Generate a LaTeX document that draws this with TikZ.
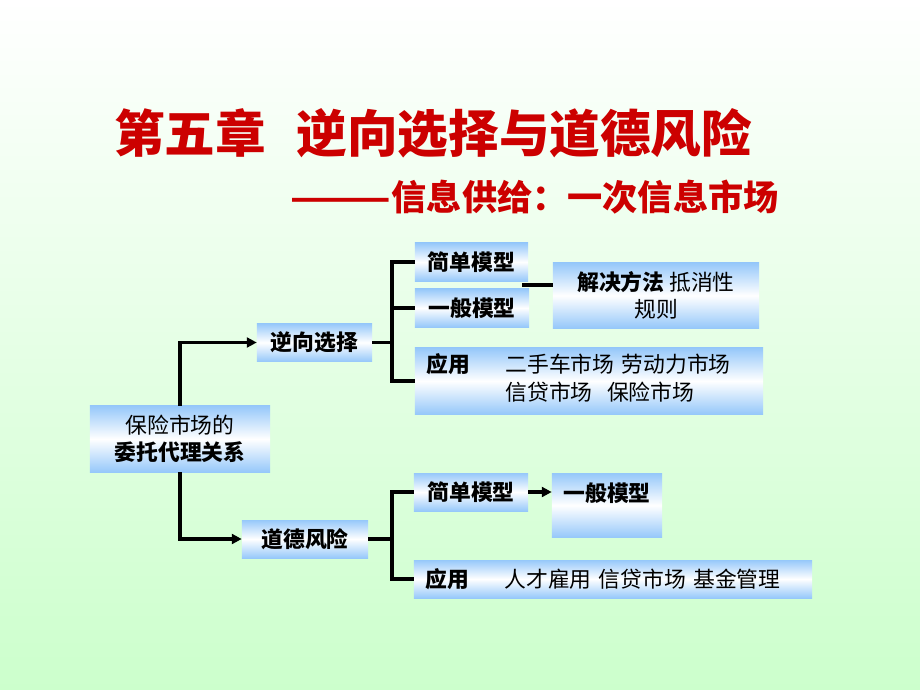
\documentclass[tikz,border=0pt]{standalone}
\usepackage{fontspec}
\setmainfont{Noto Sans CJK SC}
\usepackage{graphicx}
\usetikzlibrary{arrows.meta,positioning,calc}
\definecolor{bggreen}{RGB}{204,255,204}
\definecolor{boxblue}{RGB}{150,200,250}
\definecolor{titlered}{RGB}{204,0,0}

\begin{document}
\begin{tikzpicture}[x=0.025cm,y=-0.025cm,
  box/.style={top color=boxblue,bottom color=boxblue,middle color=white,inner sep=0pt,
    font=\fontsize{15.5}{19.5}\selectfont,minimum height=0.95cm},
  link/.style={line width=2.2pt},
  arrowlink/.style={link,-{Triangle[length=7pt,width=7pt]}}]
% Background
\shade[top color=white,bottom color=bggreen] (0,0) rectangle (920,690);
\useasboundingbox (0,0) rectangle (920,690);
% Titles
\node[titlered,font=\bfseries\fontsize{36}{40}\selectfont,anchor=west,inner sep=0pt] (title) at (114,133) {第五章\hspace{0.6em}逆向选择与道德风险};
\node[titlered,font=\bfseries\fontsize{25}{30}\selectfont,anchor=west,inner sep=0pt] (subtitle) at (289,197) {\scalebox{1.7}[1]{——}信息供给：一次信息市场};
% Root and the two problems
\node[box,minimum width=4.5cm,minimum height=1.65cm,align=center] (root) at (180,439) {保险市场的\\\textbf{委托代理关系}};
\node[box,minimum width=2.875cm] (adverse) at (314.5,342.5) {\textbf{逆向选择}};
\node[box,minimum width=3.15cm] (moral) at (305,539) {\textbf{道德风险}};
% Adverse selection branch
\node[box,minimum width=2.825cm] (asimple) at (471.5,262) {\textbf{简单模型}};
\node[box,minimum width=2.85cm] (ageneral) at (472,308) {\textbf{一般模型}};
\node[box,minimum width=5.15cm,minimum height=1.625cm,align=center] (asol) at (656,295.5) {\textbf{解决方法} 抵消性\\规则};
\node[box,inner xsep=0.3cm,text width=8.1cm,minimum height=1.65cm,align=left] (aapp) at (589,381)
  {\textbf{应用}\hspace{1.6em}\begin{tabular}[t]{@{}l@{}}二手车市场 劳动力市场\\信贷市场\ \ 保险市场\end{tabular}};
% Moral hazard branch
\node[box,minimum width=2.85cm] (msimple) at (471,492) {\textbf{简单模型}};
\node[box,minimum width=2.75cm,text height=0.7cm,text depth=0.9cm,anchor=north] (mgeneral) at (607,473) {\textbf{一般模型}};
\node[box,inner xsep=0.3cm,text width=9.35cm,align=left] (mapp) at (613,579) {\textbf{应用}\hspace{1.6em}人才雇用 信贷市场 基金管理};
% Connectors
\draw[arrowlink] (root.north) |- (adverse.west);
\draw[arrowlink] (root.south) |- (moral.west);
\coordinate (abus) at (392,342.5);
\draw[link] (adverse.east) -- (abus);
\draw[link] (asimple.west) -| (abus) |- (aapp.west);
\draw[link] (ageneral.west) -- (ageneral.west -| abus);
\coordinate (agap) at (522,285);
\draw[link] (agap) -- (agap -| asol.west);
\coordinate (mbus) at (392,539);
\draw[link] (moral.east) -- (mbus);
\draw[link] (msimple.west) -| (mbus) |- (mapp.west);
\draw[arrowlink] (msimple.east) -- (msimple.east -| mgeneral.west);
\end{tikzpicture}
\end{document}
